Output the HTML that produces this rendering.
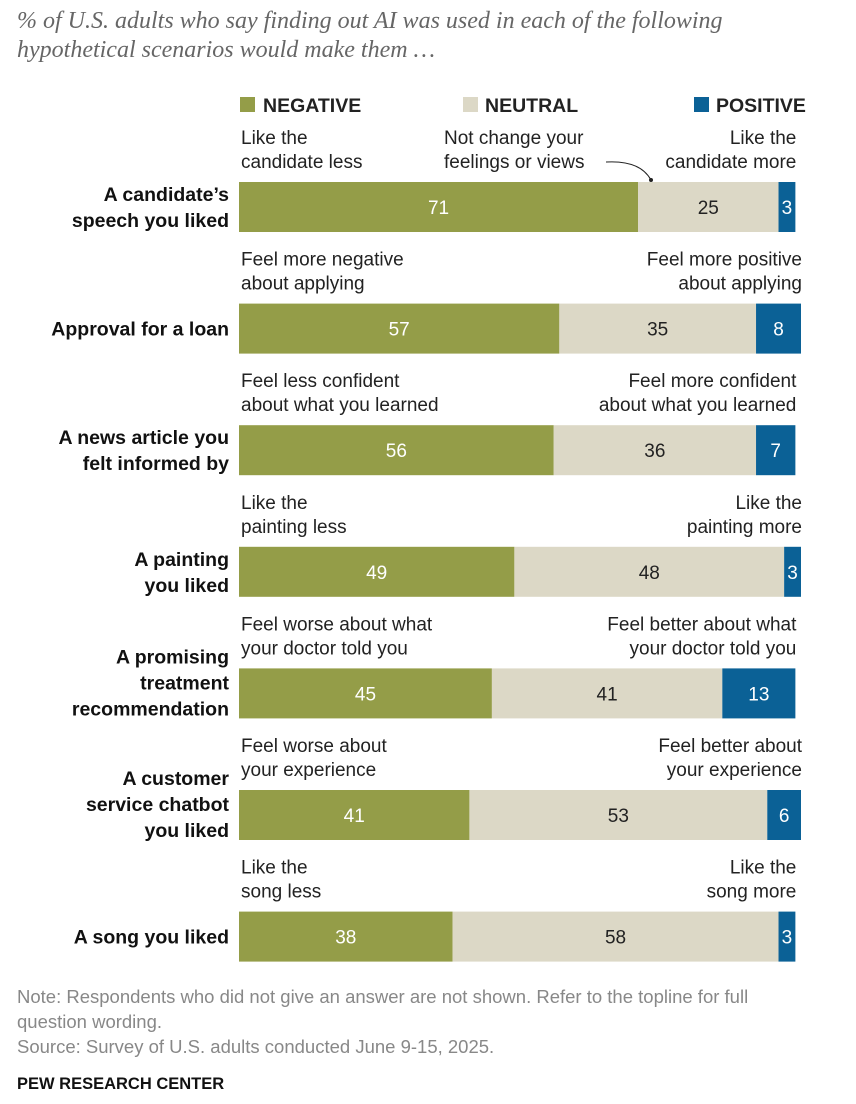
<!DOCTYPE html>
<html><head><meta charset="utf-8"><style>
body{margin:0;background:#fff;width:856px;height:1104px;overflow:hidden}
svg{display:block}
text{font-family:"Liberation Sans",sans-serif}
</style></head><body>
<svg id="c" width="856" height="1104">
<text x="17" y="28" font-style="italic" font-size="24" fill="#666" style="font-family:'Liberation Serif',serif">% of U.S. adults who say finding out AI was used in each of the following</text>
<text x="17" y="57" font-style="italic" font-size="24" fill="#666" style="font-family:'Liberation Serif',serif">hypothetical scenarios would make them …</text>
<g>
<rect x="240" y="97" width="15" height="15" fill="#949d48"/>
<text x="263" y="112" font-size="19.5" font-weight="bold" fill="#222">NEGATIVE</text>
<rect x="463" y="97" width="15" height="15" fill="#dcd8c6"/>
<text x="485" y="112" font-size="19.5" font-weight="bold" fill="#222">NEUTRAL</text>
<rect x="694" y="97" width="15" height="15" fill="#0b6196"/>
<text x="716" y="112" font-size="19.5" font-weight="bold" fill="#222">POSITIVE</text>
</g>
<text x="444" y="144" font-size="19" fill="#222">Not change your</text>
<text x="444" y="168" font-size="19" fill="#222">feelings or views</text>
<path d="M606 162 Q640 160 651 180" fill="none" stroke="#222" stroke-width="1"/>
<circle cx="651" cy="180" r="2" fill="#222"/>
<g id="rows"></g>
<text x="17" y="1003" font-size="18.5" fill="#888">Note: Respondents who did not give an answer are not shown. Refer to the topline for full</text>
<text x="17" y="1028" font-size="18.5" fill="#888">question wording.</text>
<text x="17" y="1053" font-size="18.5" fill="#888">Source: Survey of U.S. adults conducted June 9-15, 2025.</text>
<text x="17" y="1089" font-size="16.5" font-weight="bold" fill="#111">PEW RESEARCH CENTER</text>
</svg>
<script>
const categories=[["A candidate’s","speech you liked"],["Approval for a loan"],["A news article you","felt informed by"],["A painting","you liked"],["A promising","treatment","recommendation"],["A customer","service chatbot","you liked"],["A song you liked"]];
const negative=[71,57,56,49,45,41,38];
const neutral=[25,35,36,48,41,53,58];
const positive=[3,8,7,3,13,6,3];
const leftLabels=[["Like the","candidate less"],["Feel more negative","about applying"],["Feel less confident","about what you learned"],["Like the","painting less"],["Feel worse about what","your doctor told you"],["Feel worse about","your experience"],["Like the","song less"]];
const rightLabels=[["Like the","candidate more"],["Feel more positive","about applying"],["Feel more confident","about what you learned"],["Like the","painting more"],["Feel better about what","your doctor told you"],["Feel better about","your experience"],["Like the","song more"]];
const X0=239,K=5.62,BH=50;
const x=v=>X0+v*K;
const y=i=>182+i*121.6;
const NS="http://www.w3.org/2000/svg";
const g=document.getElementById('rows');
function el(t,a,txt){const e=document.createElementNS(NS,t);for(const k in a)e.setAttribute(k,a[k]);if(txt!=null)e.textContent=txt;g.appendChild(e);return e;}
categories.forEach((cat,i)=>{
  const top=y(i);
  const segs=[[0,negative[i],'#949d48','#fff','negative'],[negative[i],neutral[i],'#dcd8c6','#222','neutral'],[negative[i]+neutral[i],positive[i],'#0b6196','#fff','positive']];
  segs.forEach(s=>{
    const r=el('rect',{x:x(s[0]),y:top,width:s[1]*K,height:BH,fill:s[2]});
    
    
    const t=el('text',{x:x(s[0]+s[1]/2),y:top+BH/2+7,'font-size':19,fill:s[3],'text-anchor':'middle'},s[1]);
    
    
  });
  const n=cat.length;
  const c=top+BH/2+(n===3?-10:1);
  cat.forEach((ln,j)=>{
    const t=el('text',{x:229,y:c+(j-(n-1)/2)*26+6,'font-size':19.5,'font-weight':'bold',fill:'#111','text-anchor':'end'},ln);
    
    
  });
  leftLabels[i].forEach((ln,j)=>{
    const t=el('text',{x:241,y:top-38+j*24,'font-size':19,fill:'#222'},ln);
    
    
  });
  const tot=negative[i]+neutral[i]+positive[i];
  rightLabels[i].forEach((ln,j)=>{
    const t=el('text',{x:x(tot)+1,y:top-38+j*24,'font-size':19,fill:'#222','text-anchor':'end'},ln);
    
    
  });
});
</script>
</body></html>
